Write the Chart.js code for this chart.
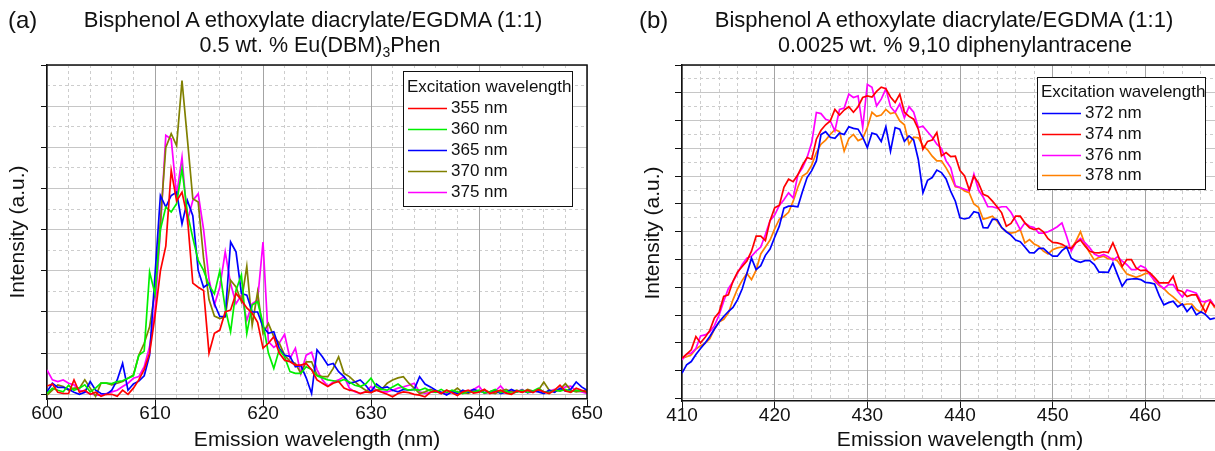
<!DOCTYPE html>
<html>
<head>
<meta charset="utf-8">
<script src="https://cdn.jsdelivr.net/npm/chart.js@4.4.1/dist/chart.umd.min.js"></script>
<style>
  html, body { margin: 0; padding: 0; background: #fff; }
  body { width: 1215px; height: 451px; overflow: hidden; position: relative;
         font-family: "Liberation Sans", Arial, sans-serif; color: #111; }
  canvas { position: absolute; top: 0; }
  #chartA { left: 0; }
  #chartB { left: 635px; }
  .tag { position: absolute; font-size: 24px; line-height: 24px; }
  .ttl { position: absolute; width: 600px; text-align: center; font-size: 22px;
         line-height: 22px; white-space: nowrap; }
  .ttl.sub2 { font-size: 21.5px; }
  .ttl sub { font-size: 14px; line-height: 0; vertical-align: -5px; }
</style>
</head>
<body>
<canvas id="chartA" width="620" height="451"></canvas>
<canvas id="chartB" width="605" height="451"></canvas>

<div class="tag" style="left:8px;top:8px">(a)</div>
<div class="ttl" style="left:13px;top:9px">Bisphenol A ethoxylate diacrylate/EGDMA (1:1)</div>
<div class="ttl sub2" style="left:20px;top:34px">0.5 wt. % Eu(DBM)<sub>3</sub>Phen</div>
<div class="tag" style="left:639px;top:8px">(b)</div>
<div class="ttl" style="left:644px;top:9px">Bisphenol A ethoxylate diacrylate/EGDMA (1:1)</div>
<div class="ttl sub2" style="left:655px;top:34px">0.0025 wt. % 9,10 diphenylantracene</div>

<script>
// ---- panel (a): Eu(DBM)3Phen, emission vs excitation wavelength ----
const wavelengthA = [
  600, 600.5, 601, 601.5, 602, 602.5, 603, 603.5, 604, 604.5,
  605, 605.5, 606, 606.5, 607, 607.5, 608, 608.5, 609, 609.5,
  610, 610.5, 611, 611.5, 612, 612.5, 613, 613.5, 614, 614.5,
  615, 615.5, 616, 616.5, 617, 617.5, 618, 618.5, 619, 619.5,
  620, 620.5, 621, 621.5, 622, 622.5, 623, 623.5, 624, 624.5,
  625, 625.5, 626, 626.5, 627, 627.5, 628, 628.5, 629, 629.5,
  630, 630.5, 631, 631.5, 632, 632.5, 633, 633.5, 634, 634.5,
  635, 635.5, 636, 636.5, 637, 637.5, 638, 638.5, 639, 639.5,
  640, 640.5, 641, 641.5, 642, 642.5, 643, 643.5, 644, 644.5,
  645, 645.5, 646, 646.5, 647, 647.5, 648, 648.5, 649, 649.5,
  650
]
const labelsA = ['355 nm', '360 nm', '365 nm', '370 nm', '375 nm']
const colorsA = ['#ff0000', '#00f000', '#0000ff', '#808000', '#ff00ff']

const ex355 = [
  0.20, 0.25, 0.05, 0.02, 0.02, 0.35, 0.05, 0.10, 0.00, 0.05,
  -0.05, 0.00, 0.00, -0.05, 0.10, 0.00, 0.15, 0.35, 0.60, 1.00,
  1.90, 3.00, 3.60, 5.44, 4.70, 4.91, 4.30, 2.70, 2.60, 2.52,
  1.00, 1.48, 1.56, 2.00, 2.05, 2.45, 2.29, 2.10, 1.97, 1.75,
  1.12, 1.24, 1.40, 1.00, 0.83, 0.79, 0.71, 0.71, 0.75, 0.60,
  0.35, 0.27, 0.19, 0.27, 0.31, 0.15, 0.10, 0.08, 0.02, 0.06,
  0.04, 0.10, 0.05, 0.00, -0.06, 0.02, 0.06, 0.04, 0.00, -0.02,
  -0.06, 0.05, 0.08, 0.02, 0.10, 0.04, -0.03, 0.06, 0.10, 0.03,
  0.05, 0.12, 0.02, 0.06, 0.10, 0.03, 0.00, 0.08, 0.05, 0.10,
  0.04, 0.12, 0.06, 0.02, 0.10, 0.22, 0.08, 0.05, 0.15, 0.10,
  0.05
]
const ex360 = [
  0.02, 0.15, 0.10, 0.06, 0.22, 0.10, 0.15, 0.23, 0.06, 0.15,
  0.27, 0.27, 0.26, 0.31, 0.33, 0.39, 0.45, 0.95, 1.05, 2.97,
  2.44, 4.00, 4.55, 4.43, 4.63, 5.48, 4.40, 3.80, 3.25, 3.01,
  2.65, 2.44, 3.00, 2.09, 1.52, 2.53, 2.90, 1.48, 2.17, 2.25,
  1.72, 1.00, 0.63, 1.08, 0.91, 0.55, 0.51, 0.51, 0.67, 0.60,
  0.45, 0.40, 0.35, 0.33, 0.31, 0.36, 0.30, 0.22, 0.19, 0.25,
  0.39, 0.18, 0.12, 0.10, 0.18, 0.25, 0.15, 0.10, 0.12, 0.10,
  0.15, 0.08, 0.05, 0.12, 0.04, 0.10, 0.06, 0.02, 0.08, 0.05,
  0.10, 0.03, 0.06, 0.12, 0.04, 0.08, 0.02, 0.06, 0.10, 0.05,
  0.08, 0.15, 0.06, 0.04, 0.10, 0.08, 0.12, 0.06, 0.10, 0.08,
  0.06
]
const ex365 = [
  0.06, 0.27, 0.17, 0.17, 0.12, 0.05, 0.00, 0.05, 0.31, 0.10,
  0.02, 0.00, 0.10, 0.35, 0.75, 0.10, 0.25, 0.32, 0.45, 0.95,
  2.90, 4.83, 4.55, 4.83, 4.91, 4.14, 4.71, 4.34, 3.01, 2.60,
  2.69, 2.20, 1.89, 1.89, 3.70, 3.46, 2.45, 2.41, 2.00, 2.00,
  1.64, 1.48, 1.52, 1.12, 0.95, 0.92, 0.67, 0.70, 0.40, 0.02,
  1.08, 0.91, 0.71, 0.75, 0.55, 0.43, 0.27, 0.30, 0.35, 0.22,
  0.06, 0.25, 0.15, 0.18, 0.10, 0.06, 0.12, 0.10, 0.12, 0.43,
  0.25, 0.18, 0.10, 0.05, -0.02, 0.06, 0.02, 0.10, 0.05, 0.12,
  0.08, 0.04, 0.06, 0.10, 0.02, 0.05, 0.12, 0.06, 0.10, 0.04,
  0.08, 0.06, 0.02, 0.10, 0.05, 0.15, 0.08, 0.12, 0.30, 0.18,
  0.10
]
const ex370 = [
  -0.02, 0.10, 0.23, 0.19, 0.10, 0.15, 0.15, 0.35, 0.15, -0.05,
  0.27, 0.27, 0.23, 0.27, 0.31, 0.39, 0.47, 0.95, 1.24, 1.64,
  2.50, 4.20, 6.00, 6.33, 6.04, 7.62, 6.20, 4.75, 4.67, 3.30,
  2.30, 1.90, 1.84, 1.88, 2.77, 2.61, 2.25, 3.11, 1.68, 2.49,
  1.48, 1.72, 1.40, 1.25, 0.95, 0.80, 0.75, 0.51, 0.79, 0.79,
  0.47, 0.43, 0.43, 0.63, 0.91, 0.51, 0.43, 0.31, 0.19, 0.10,
  0.06, 0.10, 0.12, 0.27, 0.35, 0.40, 0.43, 0.27, 0.15, 0.02,
  0.06, 0.12, 0.08, 0.02, 0.10, 0.05, 0.15, 0.04, 0.02, 0.08,
  0.06, 0.10, 0.05, 0.02, 0.08, 0.12, 0.06, 0.10, 0.05, 0.12,
  0.08, 0.10, 0.30, 0.10, 0.06, 0.12, 0.26, 0.10, 0.06, 0.08,
  0.10
]
const ex375 = [
  0.59, 0.35, 0.31, 0.35, 0.27, 0.23, 0.10, 0.06, 0.02, -0.02,
  -0.02, 0.02, 0.06, 0.10, 0.19, 0.27, 0.39, 0.43, 0.67, 1.16,
  2.04, 4.00, 6.29, 6.20, 4.83, 5.76, 4.22, 4.71, 4.87, 4.00,
  2.80, 2.17, 2.60, 3.46, 2.69, 2.20, 2.41, 1.80, 2.20, 2.29,
  3.70, 1.28, 1.14, 1.24, 1.46, 0.87, 1.12, 0.50, 0.95, 1.02,
  0.60, 0.35, 0.20, 0.30, 0.35, 0.43, 0.15, 0.06, 0.02, 0.06,
  0.19, 0.10, 0.06, 0.06, 0.10, 0.15, 0.18, 0.22, 0.27, 0.06,
  0.02, 0.05, 0.06, 0.04, 0.02, 0.05, 0.04, 0.06, 0.08, 0.12,
  0.20, 0.02, 0.06, 0.08, 0.20, 0.05, 0.10, 0.06, 0.12, 0.04,
  0.06, 0.10, 0.04, 0.08, 0.12, 0.08, 0.18, 0.20, 0.08, 0.06,
  0.02
]

// ---- panel (b): 9,10 diphenylanthracene ----
const wavelengthB = [
  410, 410.5, 411, 411.5, 412, 412.5, 413, 413.5, 414, 414.5,
  415, 415.5, 416, 416.5, 417, 417.5, 418, 418.5, 419, 419.5,
  420, 420.5, 421, 421.5, 422, 422.5, 423, 423.5, 424, 424.5,
  425, 425.5, 426, 426.5, 427, 427.5, 428, 428.5, 429, 429.5,
  430, 430.5, 431, 431.5, 432, 432.5, 433, 433.5, 434, 434.5,
  435, 435.5, 436, 436.5, 437, 437.5, 438, 438.5, 439, 439.5,
  440, 440.5, 441, 441.5, 442, 442.5, 443, 443.5, 444, 444.5,
  445, 445.5, 446, 446.5, 447, 447.5, 448, 448.5, 449, 449.5,
  450, 450.5, 451, 451.5, 452, 452.5, 453, 453.5, 454, 454.5,
  455, 455.5, 456, 456.5, 457, 457.5, 458, 458.5, 459, 459.5,
  460, 460.5, 461, 461.5, 462, 462.5, 463, 463.5, 464, 464.5,
  465, 465.5, 466, 466.5, 467, 467.5
]
const labelsB = ['372 nm', '374 nm', '376 nm', '378 nm']
const colorsB = ['#0000ff', '#ff0000', '#ff00ff', '#ff8000']

const ex372 = [
  0.91, 1.21, 1.33, 1.58, 1.80, 2.00, 2.23, 2.50, 2.75, 2.95,
  3.13, 3.28, 3.56, 3.95, 4.50, 5.05, 4.64, 4.78, 5.15, 5.38,
  5.80, 6.20, 6.85, 6.92, 6.92, 6.90, 7.45, 7.95, 8.20, 8.55,
  9.50, 9.60, 9.40, 9.36, 9.55, 9.50, 9.78, 9.72, 9.69, 9.40,
  9.03, 9.55, 9.50, 9.25, 9.78, 8.90, 9.75, 9.69, 9.25, 9.45,
  9.30, 8.60, 7.40, 7.85, 7.95, 8.22, 8.13, 7.90, 7.45, 7.10,
  6.50, 6.46, 6.50, 6.72, 6.68, 6.15, 6.14, 6.45, 6.44, 6.15,
  6.00, 5.88, 5.70, 5.64, 5.45, 5.25, 5.24, 5.40, 5.40, 5.25,
  5.12, 5.12, 5.32, 5.45, 5.05, 4.95, 4.90, 4.96, 4.96, 4.82,
  4.55, 4.55, 4.54, 4.88, 4.45, 4.04, 4.28, 4.30, 4.31, 4.28,
  4.18, 4.16, 4.12, 3.70, 3.37, 3.45, 3.50, 3.30, 3.40, 3.13,
  3.31, 3.01, 3.12, 3.02, 2.85, 2.89
]
const ex374 = [
  1.45, 1.60, 1.75, 2.23, 2.00, 2.20, 2.45, 2.90, 3.10, 3.67,
  3.73, 4.22, 4.55, 4.75, 4.95, 5.30, 5.84, 5.84, 5.68, 6.40,
  6.86, 6.95, 7.60, 7.89, 7.80, 8.05, 8.40, 8.67, 8.61, 9.33,
  9.65, 9.85, 9.99, 10.40, 10.20, 10.38, 10.50, 10.30, 10.50, 10.83,
  10.89, 10.85, 11.05, 11.20, 11.15, 10.85, 10.65, 10.95, 10.30, 10.15,
  10.05, 9.69, 8.97, 9.25, 9.30, 9.57, 8.73, 8.85, 8.70, 8.72,
  8.20, 8.01, 7.50, 8.00, 7.75, 7.35, 7.28, 7.10, 6.90, 6.68,
  6.20, 6.30, 6.56, 6.56, 6.32, 6.14, 6.08, 6.12, 6.00, 5.75,
  5.62, 5.60, 5.55, 5.45, 5.40, 5.60, 5.70, 5.48, 5.30, 5.25,
  5.24, 5.28, 5.25, 5.60, 5.20, 4.75, 5.00, 5.00, 4.70, 4.60,
  4.62, 4.52, 4.35, 4.16, 4.16, 4.16, 4.40, 3.90, 3.85, 3.67,
  3.73, 3.73, 3.40, 3.10, 3.49, 3.31
]
const ex376 = [
  1.39, 1.60, 1.63, 1.80, 2.25, 2.29, 2.40, 2.62, 3.00, 3.50,
  3.95, 4.20, 4.52, 4.82, 5.05, 5.12, 5.30, 5.45, 5.90, 6.40,
  6.60, 6.95, 7.15, 7.40, 7.22, 8.05, 8.30, 8.67, 9.21, 10.29,
  10.25, 10.05, 9.99, 9.63, 10.40, 10.45, 10.95, 10.83, 10.89, 9.75,
  11.30, 11.20, 10.53, 10.77, 11.14, 10.50, 10.30, 10.60, 10.10, 10.50,
  10.30, 9.75, 9.80, 9.60, 9.40, 9.15, 9.00, 8.55, 8.30, 7.65,
  7.59, 7.53, 7.47, 8.07, 7.50, 7.25, 6.90, 6.90, 6.85, 6.90,
  6.90, 6.70, 6.40, 6.08, 6.32, 6.20, 6.15, 5.95, 5.95, 6.00,
  6.08, 6.18, 6.32, 5.84, 5.30, 5.60, 5.76, 5.60, 5.42, 5.20,
  5.12, 5.18, 5.10, 4.98, 5.10, 4.94, 4.82, 4.64, 4.64, 4.78,
  4.70, 4.45, 4.25, 4.10, 3.95, 4.10, 4.10, 3.85, 3.65, 3.90,
  3.85, 3.79, 3.50, 3.48, 3.55, 3.31
]
const ex378 = [
  1.45, 1.50, 1.57, 1.78, 1.90, 1.99, 2.15, 2.50, 2.75, 2.85,
  3.07, 3.55, 3.95, 4.25, 4.50, 4.28, 4.62, 5.20, 5.45, 5.70,
  6.10, 6.45, 6.55, 6.70, 7.10, 7.60, 8.00, 8.12, 8.40, 8.85,
  9.15, 9.30, 9.50, 9.68, 9.60, 8.90, 9.35, 9.50, 9.28, 9.35,
  9.75, 10.30, 10.15, 10.20, 10.40, 10.25, 10.29, 9.99, 9.85, 9.15,
  9.40, 9.38, 9.10, 8.95, 8.72, 8.55, 8.55, 8.30, 8.00, 7.62,
  7.59, 7.47, 7.40, 7.00, 6.88, 6.45, 6.50, 6.56, 6.38, 6.15,
  6.00, 5.95, 5.98, 6.08, 5.60, 5.72, 5.56, 5.48, 5.30, 5.20,
  5.35, 5.42, 5.45, 5.42, 5.40, 5.65, 6.00, 5.54, 5.24, 4.98,
  5.08, 5.12, 5.02, 5.04, 4.95, 4.70, 4.48, 4.42, 4.36, 4.42,
  4.50, 4.50, 4.22, 4.06, 3.95, 3.78, 3.66, 3.50, 3.36, 3.40,
  3.40, 3.20, 3.10, 3.50, 3.55, 3.25
]

const FONT = '"Liberation Sans", Arial, sans-serif'
const INK = '#111'
const MINOR_GRID = '#cdcdcd'

const onStep = (v, step) => Math.abs(v / step - Math.round(v / step)) < 1e-6

// white legend box with title, drawn inside the plot
const boxLegend = {
  id: 'boxLegend',
  afterDraw(chart, args, o) {
    const ctx = chart.ctx
    ctx.save()
    ctx.fillStyle = '#fff'
    ctx.fillRect(o.x, o.y, o.w, o.h)
    ctx.strokeStyle = INK
    ctx.lineWidth = 1
    ctx.strokeRect(o.x + 0.5, o.y + 0.5, o.w, o.h)
    ctx.font = `${o.size}px ${FONT}`
    ctx.textBaseline = 'middle'
    ctx.fillStyle = INK
    ctx.fillText(o.title, o.x + 4, o.y + o.first)
    chart.data.datasets.forEach((ds, i) => {
      const yy = Math.round(o.y + o.first + (i + 1) * o.row) + 0.5
      ctx.strokeStyle = ds.borderColor
      ctx.lineWidth = 1.5
      ctx.beginPath()
      ctx.moveTo(o.x + 5, yy)
      ctx.lineTo(o.x + 44, yy)
      ctx.stroke()
      ctx.fillStyle = INK
      ctx.fillText(ds.label, o.x + 48, yy)
    })
    ctx.restore()
  }
}

// top / right edges of the plot box
const frame = {
  id: 'frame',
  afterDatasetsDraw(chart) {
    const { ctx, chartArea: a } = chart
    ctx.save()
    ctx.strokeStyle = INK
    ctx.lineWidth = 1.5
    ctx.beginPath()
    ctx.moveTo(a.left, a.top)
    ctx.lineTo(a.right, a.top)
    ctx.lineTo(a.right, a.bottom)
    ctx.stroke()
    ctx.restore()
  }
}

function makeScales(p) {
  return {
    y: {
      type: 'linear', position: 'left', min: p.yMin, max: p.yMax,
      ticks: { display: false, stepSize: 1, includeBounds: false },
      grid: { color: '#c6c6c6', tickLength: p.yTick, tickColor: INK, tickWidth: 1 },
      border: { color: INK, width: 1.5 },
      title: { display: true, text: 'Intensity (a.u.)', color: INK,
               font: { family: FONT, size: 21 }, padding: { top: 6, bottom: 0 } },
      afterFit: s => { s.width = 47; s.paddingTop = 0; s.paddingBottom = 0 }
    },
    yMinor: {
      type: 'linear', position: 'left', min: p.yMin, max: p.yMax,
      ticks: { display: false, stepSize: 0.5, includeBounds: false },
      grid: {
        color: c => (c.tick && onStep(c.tick.value, 1)) ? 'rgba(0,0,0,0)' : MINOR_GRID,
        tickLength: p.yMinorTick, tickColor: INK, tickWidth: 1
      },
      border: { display: false, dash: [3, 3] },
      afterFit: s => { s.width = 0; s.paddingTop = 0; s.paddingBottom = 0 }
    },
    xMinor: {
      type: 'linear', position: 'bottom', min: p.xMin, max: p.xMax,
      ticks: { display: false, stepSize: 2 },
      grid: {
        color: c => (c.tick && onStep(c.tick.value, 10)) ? 'rgba(0,0,0,0)' : MINOR_GRID,
        drawTicks: false
      },
      border: { display: false, dash: [3, 3] },
      afterFit: s => { s.height = 0; s.paddingLeft = 0; s.paddingRight = 0 }
    },
    x: {
      type: 'linear', position: 'bottom', min: p.xMin, max: p.xMax,
      ticks: { stepSize: 10, color: INK, padding: -4, maxRotation: 0, autoSkip: false,
               font: { family: FONT, size: 19, lineHeight: 1.2 } },
      grid: { color: '#a4a4a4', tickLength: 7, tickColor: INK, tickWidth: 1 },
      border: { color: INK, width: 1.5 },
      title: { display: true, text: 'Emission wavelength (nm)', color: INK,
               font: { family: FONT, size: 21 }, padding: { top: 0, bottom: -2 } },
      afterFit: s => { s.height = p.xHeight; s.paddingLeft = 0; s.paddingRight = 0 }
    }
  }
}

function makeChart(id, wl, series, labels, colors, p, legend) {
  return new Chart(document.getElementById(id), {
    type: 'line',
    data: {
      datasets: series.map((s, i) => ({
        label: labels[i],
        data: wl.map((w, j) => ({ x: w, y: s[j] })),
        borderColor: colors[i],
        borderWidth: 1.7,
        pointRadius: 0,
        tension: 0,
        fill: false
      }))
    },
    options: {
      responsive: false,
      animation: false,
      devicePixelRatio: 1,
      layout: { padding: { top: 65, right: p.padRight, left: 0, bottom: 0 } },
      scales: makeScales(p),
      plugins: {
        legend: { display: false },
        tooltip: { enabled: false },
        boxLegend: legend
      }
    },
    plugins: [frame, boxLegend]
  })
}

makeChart('chartA', wavelengthA, [ex355, ex360, ex365, ex370, ex375], labelsA, colorsA,
  { xMin: 600, xMax: 650, yMin: -0.114, yMax: 8, yTick: 6, yMinorTick: 6, xHeight: 52, padRight: 33 },
  { x: 403, y: 71, w: 169, h: 135, first: 16.5, row: 20.8, size: 17, title: 'Excitation wavelength' })

makeChart('chartB', wavelengthB, [ex372, ex374, ex376, ex378], labelsB, colorsB,
  { xMin: 410, xMax: 470, yMin: -0.09, yMax: 12, yTick: 7, yMinorTick: 3.5, xHeight: 50, padRight: 2 },
  { x: 402, y: 77, w: 168, h: 112, first: 15.5, row: 20.7, size: 17, title: 'Excitation wavelength' })
</script>
</body>
</html>
